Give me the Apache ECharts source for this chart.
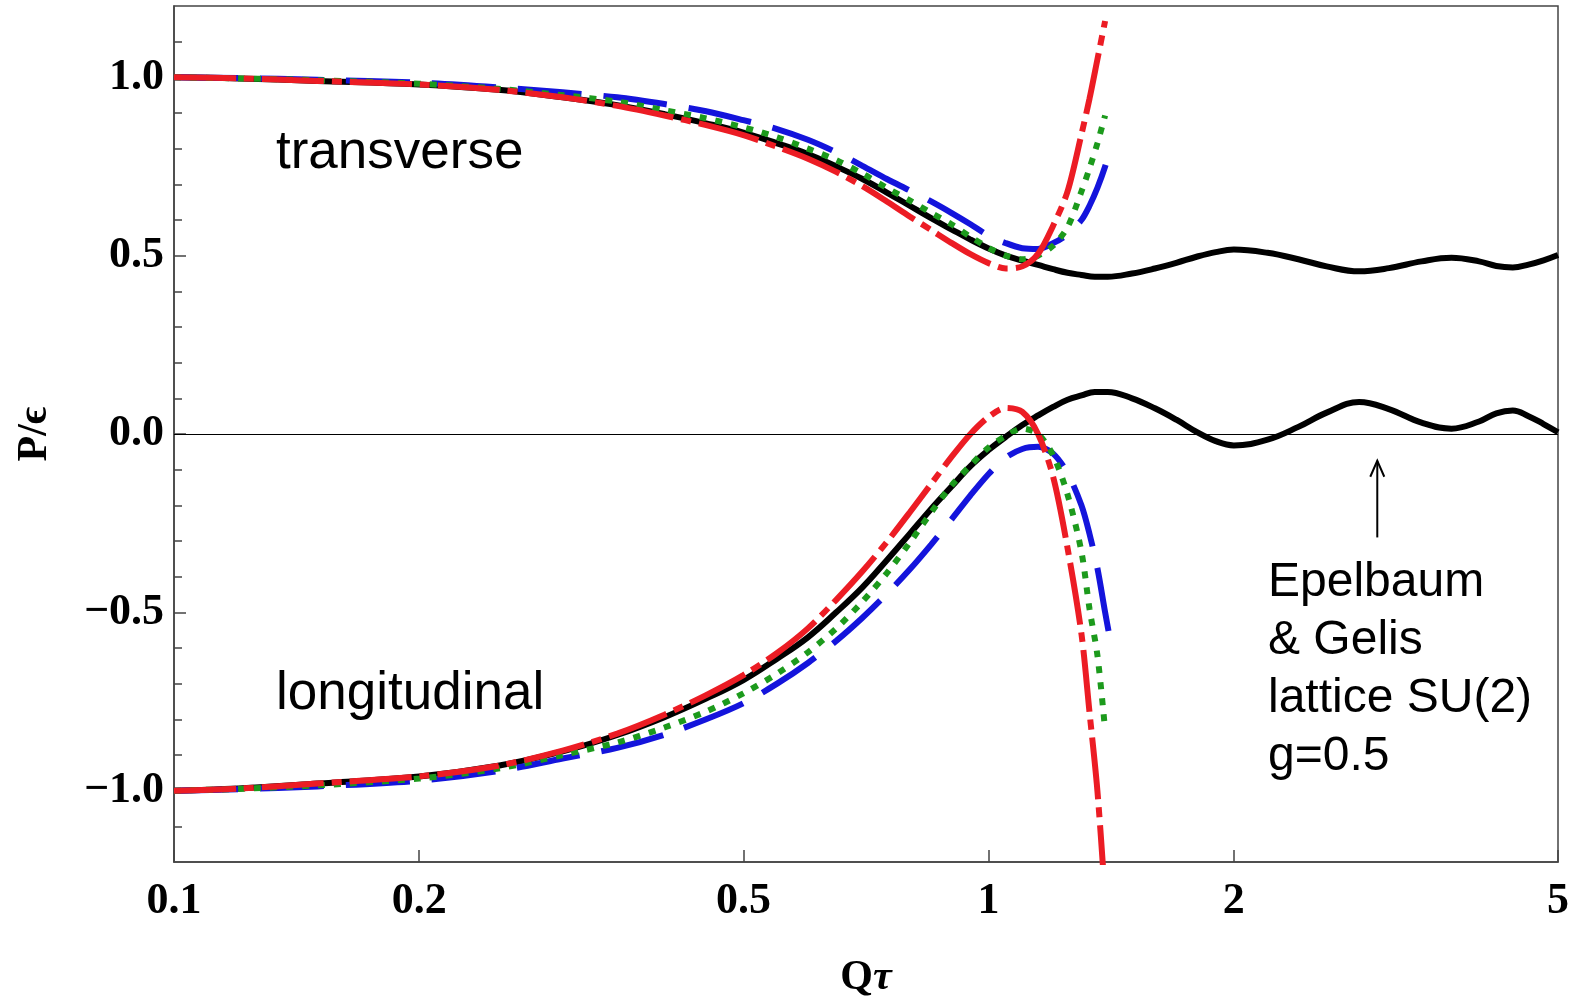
<!DOCTYPE html>
<html>
<head>
<meta charset="utf-8">
<script src="https://cdn.jsdelivr.net/npm/echarts@6/dist/echarts.min.js"></script>
<style>
  html, body { margin: 0; padding: 0; background: #fff; }
  #main { width: 1585px; height: 1000px; }
</style>
</head>
<body>
<div id="main"></div>
<script>
// axis ticks
const xTicks = [0.1, 0.2, 0.5, 1, 2, 5];
const xTickLabels = ['0.1', '0.2', '0.5', '1', '2', '5'];
const yTicks = [-1, -0.5, 0, 0.5, 1];
const yTickLabels = ['\u22121.0', '\u22120.5', '0.0', '0.5', '1.0'];
const yMinorTicks = [-1.1, -0.9, -0.8, -0.7, -0.6, -0.4, -0.3, -0.2, -0.1,
                     0.1, 0.2, 0.3, 0.4, 0.6, 0.7, 0.8, 0.9, 1.1];

// lattice SU(2) (black solid)
const xLattice = [0.1, 0.12, 0.15, 0.2, 0.25, 0.3, 0.35, 0.4, 0.45, 0.5, 0.55, 0.6, 0.65, 0.7, 0.75,
                  0.8, 0.85, 0.9, 0.95, 1.0, 1.05, 1.1, 1.15, 1.2, 1.25, 1.3, 1.35, 1.4, 1.5, 1.6,
                  1.7, 1.8, 1.9, 2.0, 2.2, 2.4, 2.6, 2.85, 3.1, 3.4, 3.7, 4.0, 4.2, 4.4, 4.6, 4.8, 5.0];
const latticeT = [1.0, 0.997, 0.99, 0.98, 0.965, 0.944, 0.922, 0.897, 0.871, 0.845, 0.815, 0.785, 0.75, 0.715, 0.677,
                  0.64, 0.605, 0.574, 0.545, 0.52, 0.5, 0.486, 0.474, 0.462, 0.452, 0.446, 0.441, 0.441, 0.45, 0.464,
                  0.48, 0.497, 0.51, 0.517, 0.508, 0.49, 0.47, 0.456, 0.465, 0.484, 0.494, 0.484, 0.471, 0.467, 0.475, 0.487, 0.502];
const latticeL = [-1.0, -0.994, -0.98, -0.96, -0.93, -0.89, -0.844, -0.794, -0.742, -0.69, -0.63, -0.57, -0.5, -0.43, -0.354,
                  -0.28, -0.21, -0.148, -0.09, -0.045, -0.008, 0.025, 0.052, 0.076, 0.096, 0.108, 0.118, 0.118, 0.1, 0.072,
                  0.04, 0.006, -0.02, -0.032, -0.016, 0.02, 0.06, 0.09, 0.07, 0.032, 0.015, 0.035, 0.058, 0.066, 0.05, 0.028, 0.005];

// truncated expansions
const xModel = [0.1, 0.12, 0.15, 0.2, 0.25, 0.3, 0.35, 0.4, 0.45, 0.5, 0.55, 0.6, 0.65, 0.7, 0.75,
                0.8, 0.85, 0.9, 0.95, 1.0, 1.05, 1.1, 1.15, 1.2, 1.25, 1.3, 1.33, 1.36, 1.39, 1.41];
const blueT = [1.0, 0.998, 0.993, 0.985, 0.972, 0.958, 0.944, 0.925, 0.905, 0.88, 0.855, 0.825, 0.79, 0.752, 0.715,
               0.683, 0.652, 0.62, 0.588, 0.556, 0.535, 0.521, 0.519, 0.535, 0.56, 0.6, 0.64, 0.69, 0.75, 0.8];
const blueL = [-1.0, -0.996, -0.988, -0.972, -0.945, -0.91, -0.88, -0.843, -0.8, -0.755, -0.7, -0.642, -0.58, -0.515, -0.448,
               -0.38, -0.31, -0.24, -0.172, -0.112, -0.066, -0.042, -0.036, -0.055, -0.11, -0.2, -0.28, -0.376, -0.5, -0.577];
const greenT = [1.0, 0.997, 0.992, 0.982, 0.968, 0.95, 0.932, 0.908, 0.885, 0.86, 0.832, 0.8, 0.768, 0.73, 0.69,
                0.655, 0.62, 0.588, 0.553, 0.522, 0.5, 0.49, 0.5, 0.528, 0.58, 0.68, 0.745, 0.815, 0.893, null];
const greenL = [-1.0, -0.995, -0.985, -0.966, -0.938, -0.9, -0.865, -0.823, -0.778, -0.727, -0.672, -0.612, -0.545, -0.47, -0.39,
                -0.305, -0.22, -0.145, -0.088, -0.038, -0.005, 0.015, 0.0, -0.06, -0.17, -0.33, -0.49, -0.62, -0.83, null];
const redT = [1.0, 0.997, 0.99, 0.98, 0.965, 0.944, 0.92, 0.893, 0.866, 0.838, 0.805, 0.772, 0.735, 0.695, 0.652,
              0.61, 0.572, 0.536, 0.504, 0.479, 0.464, 0.47, 0.505, 0.584, 0.68, 0.84, 0.94, 1.05, 1.158, null];
const redL = [-1.0, -0.994, -0.98, -0.96, -0.93, -0.888, -0.84, -0.787, -0.732, -0.676, -0.614, -0.545, -0.465, -0.385, -0.303,
              -0.22, -0.14, -0.065, 0.0, 0.048, 0.073, 0.062, 0.0, -0.12, -0.32, -0.56, -0.78, -1.0, -1.3, null];

const pairs = (xs, ys) => xs.map((x, i) => [x, ys[i]]).filter(p => p[1] !== null);

const curve = (xs, ys, color, dash, width, smooth) => ({
    type: 'line',
    data: pairs(xs, ys),
    showSymbol: false,
    smooth: smooth,
    clip: true,
    lineStyle: {color: color, width: width, type: dash, cap: 'butt'},
});

const BLUE = '#1414dc';
const GREEN = '#1c9a1c';
const RED = '#ec1c24';
const DASH_BLUE = [64, 22];
const DASH_GREEN = [7, 9];
const DASH_RED = [62, 8, 10, 8];

const labelFont = {fontFamily: 'Liberation Serif', fontWeight: 'bold', fontSize: 44, color: '#000'};
const frame = {color: '#444', width: 1.5};

var myChart = echarts.init(document.getElementById('main'));

var option = {
    animation: false,
    backgroundColor: '#fff',
    grid: {
        left: 174, right: 27, top: 6, bottom: 138,
        outerBoundsMode: 'none',
        show: true, borderColor: '#444', borderWidth: 1.5,
    },
    xAxis: {
        type: 'log',
        logBase: 10,
        min: 0.1,
        max: 5,
        axisLine: {onZero: false, lineStyle: frame},
        axisTick: {inside: true, length: 12, customValues: xTicks, lineStyle: frame},
        axisLabel: Object.assign({
            customValues: xTicks,
            margin: 18,
            formatter: (v) => {
                const i = xTicks.findIndex(t => Math.abs(t - v) < 1e-6);
                return i >= 0 ? xTickLabels[i] : '';
            },
        }, labelFont),
        splitLine: {show: false},
        minorTick: {show: false},
        name: '{q|Q}{t|\u03c4}',
        nameLocation: 'middle',
        nameGap: 95,
        nameTextStyle: {
            rich: {
                q: {fontFamily: 'Liberation Serif', fontWeight: 'bold', fontSize: 42, color: '#000'},
                t: {fontFamily: 'Liberation Serif', fontWeight: 'bold', fontStyle: 'italic', fontSize: 42, color: '#000'},
            },
        },
    },
    yAxis: [
        {
            type: 'value',
            min: -1.2,
            max: 1.2,
            axisLine: {onZero: false, lineStyle: frame},
            axisTick: {inside: true, length: 12, customValues: yTicks, lineStyle: frame},
            axisLabel: Object.assign({
                customValues: yTicks,
                margin: 10,
                formatter: (v) => {
                    const i = yTicks.findIndex(t => Math.abs(t - v) < 1e-6);
                    return i >= 0 ? yTickLabels[i] : '';
                },
            }, labelFont),
            splitLine: {show: false},
            name: 'P/\u03f5',
            nameLocation: 'middle',
            nameGap: 118,
            nameTextStyle: {fontFamily: 'Liberation Serif, DejaVu Serif', fontWeight: 'bold', fontSize: 42, color: '#000'},
        },
        {
            type: 'value',
            min: -1.2,
            max: 1.2,
            position: 'left',
            axisLine: {show: false, onZero: false},
            axisTick: {inside: true, length: 8, customValues: yMinorTicks, lineStyle: frame},
            axisLabel: {show: false},
            splitLine: {show: false},
        },
    ],
    series: [
        Object.assign(curve(xLattice, latticeT, '#000', 'solid', 6, 0.4), {
            markLine: {
                silent: true,
                symbol: 'none',
                label: {show: false},
                lineStyle: {color: '#000', width: 1.2, type: 'solid'},
                data: [{yAxis: 0}],
            },
        }),
        curve(xLattice, latticeL, '#000', 'solid', 6, 0.4),
        curve(xModel, blueT, BLUE, DASH_BLUE, 6, 0.3),
        curve(xModel, blueL, BLUE, DASH_BLUE, 6, 0.3),
        curve(xModel, greenT, GREEN, DASH_GREEN, 6, 0.3),
        curve(xModel, greenL, GREEN, DASH_GREEN, 6, 0.3),
        curve(xModel, redT, RED, DASH_RED, 6, 0.3),
        curve(xModel, redL, RED, DASH_RED, 6, 0.3),
    ],
};

myChart.setOption(option);

// annotations
const sans = (size) => size + 'px "Liberation Sans", Arial, sans-serif';
const arrowX = 3.0;
const tip = myChart.convertToPixel({xAxisIndex: 0, yAxisIndex: 0}, [arrowX, -0.075]);
const tail = myChart.convertToPixel({xAxisIndex: 0, yAxisIndex: 0}, [arrowX, -0.29]);

myChart.setOption({
    graphic: [
        {type: 'text', left: 276, top: 127, style: {text: 'transverse', font: sans(53), fill: '#000'}},
        {type: 'text', left: 276, top: 668, style: {text: 'longitudinal', font: sans(53), fill: '#000'}},
        {
            type: 'text', left: 1268, top: 554,
            style: {text: 'Epelbaum\n& Gelis\nlattice SU(2)\ng=0.5', font: sans(48), lineHeight: 58, fill: '#000'},
        },
        {
            type: 'line',
            shape: {x1: tail[0], y1: tail[1], x2: tip[0], y2: tip[1]},
            style: {stroke: '#000', lineWidth: 2},
        },
        {
            type: 'polyline',
            shape: {points: [[tip[0] - 7, tip[1] + 16], [tip[0], tip[1]], [tip[0] + 7, tip[1] + 16]]},
            style: {stroke: '#000', lineWidth: 2, fill: null},
        },
    ],
});
</script>
</body>
</html>
